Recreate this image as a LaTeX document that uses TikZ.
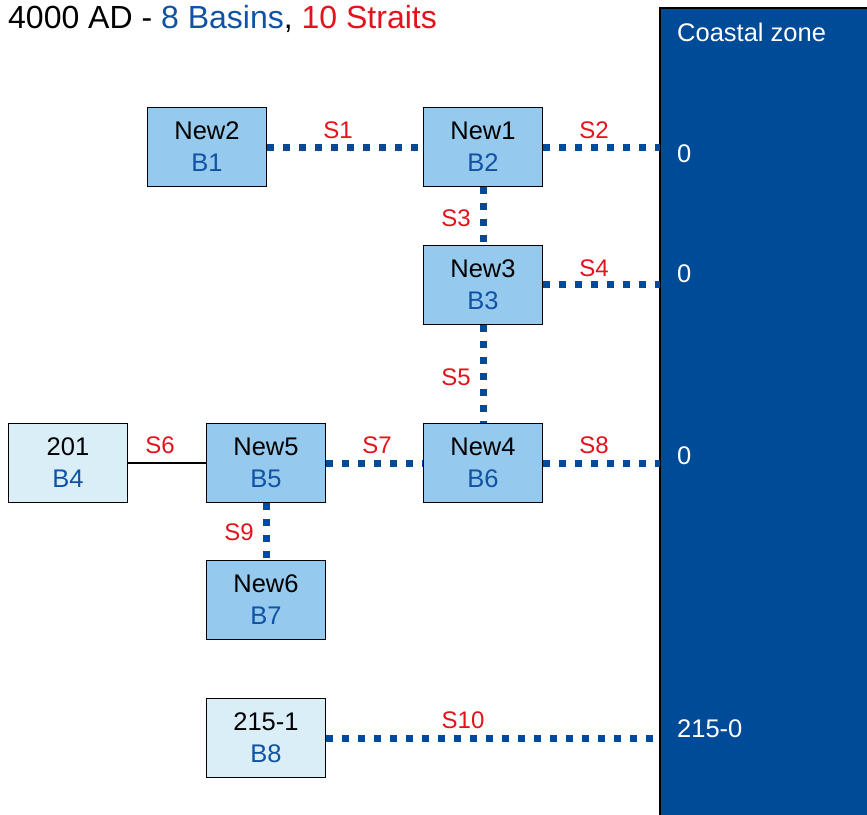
\documentclass[tikz,border=0pt]{standalone}
\usepackage{fontspec}
\setmainfont{Liberation Sans}
\definecolor{dblue}{RGB}{0,75,152}
\definecolor{bblue}{RGB}{16,82,164}
\definecolor{sred}{RGB}{228,18,28}
\definecolor{newfill}{RGB}{149,202,238}
\definecolor{oldfill}{RGB}{218,238,248}
\tikzset{
  basin/.style={draw=black, line width=1.6pt, minimum width=119pt, minimum height=79pt, inner sep=0pt, align=center, font=\fontsize{25.5}{32}\selectfont},
  newb/.style={basin, fill=newfill},
  oldb/.style={basin, fill=oldfill},
  strait/.style={dblue, line width=7pt, dash pattern=on 7pt off 9pt},
  slabel/.style={text=sred, font=\fontsize{24}{28}\selectfont, inner sep=0pt},
  zlabel/.style={text=white, font=\fontsize{25.5}{30}\selectfont, inner sep=0pt, anchor=west},
}
\begin{document}
\begin{tikzpicture}[x=1pt,y=-1pt]
\useasboundingbox (0,0) rectangle (867,814);
\fill[white] (0,0) rectangle (867,814);
% coastal zone
\draw[fill=dblue, draw=black, line width=1.2pt] (660,8) rectangle (880,830);
\node[zlabel] (cz) at (677,32) {Coastal zone};
\coordinate (c1) at (660,147);
\coordinate (c3) at (660,284);
\coordinate (c4) at (660,463);
\coordinate (c8) at (660,738);
\node[zlabel] (z1) at (677,154) {0};
\node[zlabel] (z3) at (677,274) {0};
\node[zlabel] (z4) at (677,456) {0};
\node[zlabel] (z8) at (677,729) {215-0};
% title
\node[anchor=west, inner sep=0pt, font=\fontsize{32}{36}\selectfont] (title) at (8,19) {4000 AD - \textcolor{bblue}{8 Basins}, \textcolor{sred}{10 Straits}};
% basins
\node[newb] (n2) at (207,147) {New2\\\textcolor{bblue}{B1}};
\node[newb] (n1) at (483,147) {New1\\\textcolor{bblue}{B2}};
\node[newb] (n3) at (483,285) {New3\\\textcolor{bblue}{B3}};
\node[newb] (n4) at (483,463) {New4\\\textcolor{bblue}{B6}};
\node[newb] (n5) at (266,463) {New5\\\textcolor{bblue}{B5}};
\node[oldb] (o1) at (68,463) {201\\\textcolor{bblue}{B4}};
\node[newb] (n6) at (266,600) {New6\\\textcolor{bblue}{B7}};
\node[oldb] (o2) at (266,738) {215-1\\\textcolor{bblue}{B8}};
% straits
\draw[strait] (n2.east) -- (n1.west);
\draw[strait] (n1.east |- c1) -- (c1);
\draw[strait] (n1.south) -- (n3.north);
\draw[strait] (n3.east |- c3) -- (c3);
\draw[strait] (n3.south) -- (n4.north);
\draw[black, line width=1.2pt] (o1.east) -- (n5.west);
\draw[strait] (n5.east) -- (n4.west);
\draw[strait] (n4.east) -- (c4);
\draw[strait] (n5.south) -- (n6.north);
\draw[strait] (o2.east) -- (c8);
% labels
\node[slabel] (s1) at (338,130) {S1};
\node[slabel] (s2) at (594,130) {S2};
\node[slabel] (s3) at (456,218) {S3};
\node[slabel] (s4) at (594,268) {S4};
\node[slabel] (s5) at (456,377) {S5};
\node[slabel] (s6) at (160,445) {S6};
\node[slabel] (s7) at (377,445) {S7};
\node[slabel] (s8) at (594,445) {S8};
\node[slabel] (s9) at (239,532) {S9};
\node[slabel] (s10) at (463,720) {S10};
\end{tikzpicture}
\end{document}
